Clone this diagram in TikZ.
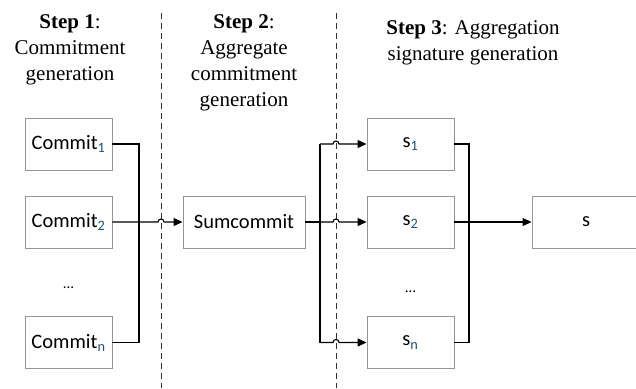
\documentclass[tikz,border=0pt]{standalone}
\usepackage{fontspec}
\setmainfont{Liberation Serif}
\newfontfamily\boxfont{Carlito}
\usetikzlibrary{arrows.meta}
\definecolor{subc}{RGB}{31,78,121}
\definecolor{boxgray}{RGB}{150,150,150}
\tikzset{
  blk/.style={draw=boxgray, line width=0.9pt, minimum width=87pt, minimum height=52pt, inner sep=0pt, font=\boxfont\fontsize{20.5}{24}\selectfont},
  wire/.style={draw=black, line width=1.1pt},
  arr/.style={wire, -{Triangle[length=9pt,width=8pt]}},
  sep/.style={draw=black!80, line width=0.9pt, dash pattern=on 6pt off 4pt},
  head/.style={align=center, font=\fontsize{21}{26}\selectfont},
  dots/.style={font=\boxfont\fontsize{15}{18}\selectfont}
}
\begin{document}
\begin{tikzpicture}[x=1pt,y=-1pt]
\useasboundingbox (0,0) rectangle (636,388);
% headings
\node[head] (h1) at (70,50) {\textbf{Step 1}:\\Commitment\\generation};
\node[head] (h2) at (244,63) {\textbf{Step 2}:\\Aggregate\\commitment\\generation};
\node[head] (h3) at (473,43) {\textbf{Step 3}: Aggregation\\signature generation};
% separators
\coordinate (d1t) at (161,13); \coordinate (d1b) at (161,388);
\coordinate (d2t) at (336,13); \coordinate (d2b) at (336,388);
\draw[sep] (d1t) -- (d1b);
\draw[sep] (d2t) -- (d2b);
% boxes
\node[blk] (c1) at (68.5,144) {Commit\textsubscript{\color{subc}1}};
\node[blk] (c2) at (68.5,222) {Commit\textsubscript{\color{subc}2}};
\node[dots] (cd) at (68.5,288) {…};
\node[blk] (cn) at (68.5,342.5) {Commit\textsubscript{\color{subc}n}};
\node[blk, minimum width=122pt] (sum) at (244,222) {Sumcommit};
\node[blk] (s1) at (410.5,144) {s\textsubscript{\color{subc}1}};
\node[blk] (s2) at (410.5,222) {s\textsubscript{\color{subc}2}};
\node[dots] (sd) at (410.5,292) {…};
\node[blk] (sn) at (410.5,342.5) {s\textsubscript{\color{subc}n}};
\node[blk, minimum width=120pt] (S) at (592,222) {};
\node[font=\boxfont\fontsize{20.5}{24}\selectfont] (Slab) at (586,222) {s};
% junction columns
\coordinate (bx1) at (139,0);
\coordinate (bx2) at (320,0);
\coordinate (bx3) at (469,0);
% step 1 -> step 2
\draw[wire] (c1.east) -| (bx1 |- cn.east) -- (cn.east);
\coordinate (hp1) at (158,222);
\draw[arr] (c2.east) -- (hp1) arc[start angle=180, end angle=360, radius=3] -- (sum.west);
% step 2 -> step 3
\draw[wire] (sum.east) -- (bx2 |- sum.east);
\draw[wire] (bx2 |- s1.west) -- (bx2 |- sn.west);
\coordinate (hq1) at (333,144);
\coordinate (hq2) at (333,222);
\coordinate (hqn) at (333,342.5);
\draw[arr] (bx2 |- s1.west) -- (hq1) arc[start angle=180, end angle=360, radius=3] -- (s1.west);
\draw[arr] (bx2 |- s2.west) -- (hq2) arc[start angle=180, end angle=360, radius=3] -- (s2.west);
\draw[arr] (bx2 |- sn.west) -- (hqn) arc[start angle=180, end angle=360, radius=3] -- (sn.west);
% aggregation
\draw[wire] (s1.east) -| (bx3 |- sn.east) -- (sn.east);
\draw[arr] (s2.east) -- (S.west);
\end{tikzpicture}
\end{document}
